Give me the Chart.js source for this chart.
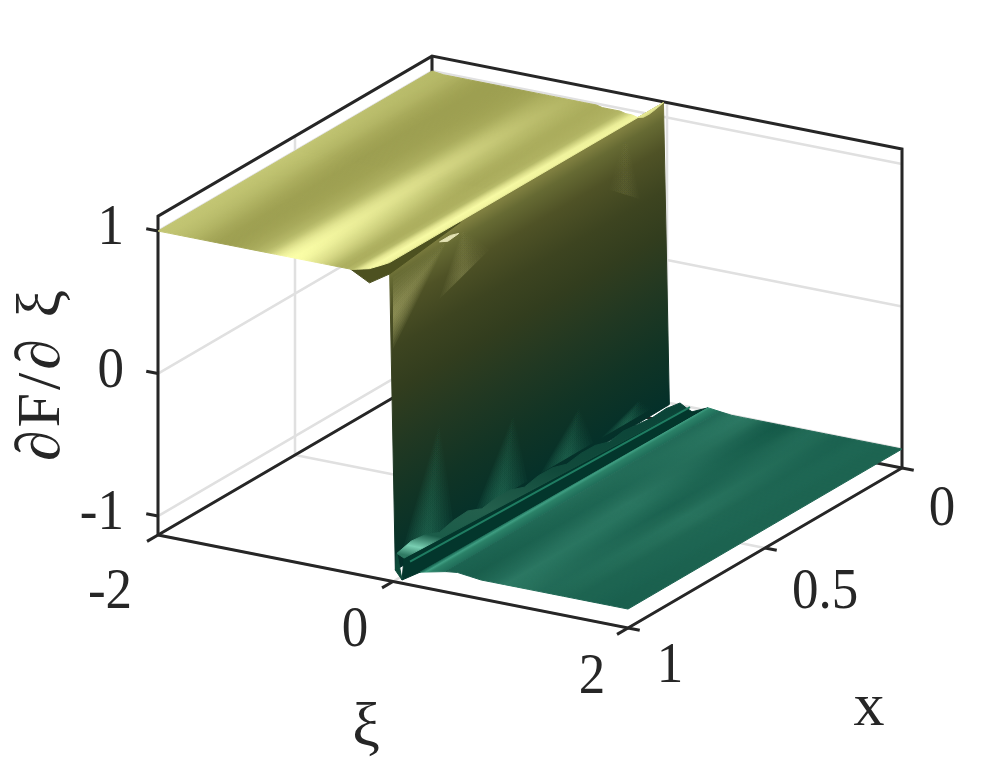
<!DOCTYPE html>
<html>
<head>
<meta charset="utf-8">
<style>
  html, body { margin: 0; padding: 0; background: #fff; }
  #wrap { position: relative; width: 997px; height: 759px; }
</style>
<script src="https://cdn.jsdelivr.net/npm/chart.js@4"></script>
</head>
<body>
<div id="wrap"><canvas id="myChart"></canvas></div>
<script>
// axis ticks
const xiTicks = [-2, 0, 2];
const xTicks = [0, 0.5, 1];
const zTicks = [-1, 0, 1];
const xiLabels = ['-2', '0', '2'];
const xLabels = ['0', '0.5', '1'];
const zLabels = ['-1', '0', '1'];

// upper plateau, one row per xi station (near = x 1, mid = x 0.5, far = x 0)
const topXi = [-2, -1.9, -1.8, -1.7, -1.6, -1.5, -1.4, -1.3, -1.2, -1.1, -1.05, -1, -0.95, -0.9, -0.85, -0.8, -0.75, -0.7, -0.65, -0.6, -0.55, -0.5, -0.45, -0.4, -0.35, -0.3, -0.25, -0.2, -0.15, -0.1, -0.03];
const topZNear = [1, 1, 1, 1, 1, 1, 1, 1, 1, 1, 1, 1, 1, 1, 1, 1, 1, 1, 1, 1, 1, 1, 1, 1, 1, 1.01, 1.02, 1.03, 1.05, 1.07, 1.1];
const topZFar = [1, 0.99, 0.99, 0.99, 0.99, 0.99, 0.99, 0.99, 0.99, 0.99, 0.99, 0.99, 0.99, 0.99, 0.99, 0.99, 0.99, 0.99, 0.99, 0.99, 0.98, 0.98, 0.98, 0.98, 0.97, 0.97, 0.96, 0.97, 1, 1.04, 1.1];
const topShadeNear = [0.42, 0.4, 0.34, 0.26, 0.14, 0.06, 0.04, 0.08, 0.15, 0.3, 0.45, 0.68, 0.85, 0.95, 1, 0.98, 0.92, 0.82, 0.72, 0.6, 0.45, 0.3, 0.2, 0.18, 0.3, 0.75, 0.95, 0.9, 0.6, 0.5, 0.5];
const topShadeMid = [0.42, 0.36, 0.28, 0.16, 0.08, 0.03, 0.04, 0.06, 0.12, 0.2, 0.3, 0.42, 0.55, 0.62, 0.62, 0.55, 0.45, 0.38, 0.3, 0.22, 0.18, 0.16, 0.18, 0.2, 0.3, 0.7, 0.95, 0.9, 0.6, 0.5, 0.5];
const topShadeFar = [0.3, 0.28, 0.22, 0.12, 0.06, 0.03, 0.03, 0.04, 0.06, 0.1, 0.14, 0.18, 0.2, 0.22, 0.24, 0.24, 0.22, 0.2, 0.18, 0.16, 0.16, 0.18, 0.2, 0.22, 0.28, 0.5, 0.8, 0.9, 0.6, 0.5, 0.5];

// lower plateau
const lowXi = [0.45, 0.55, 0.65, 0.75, 0.85, 0.95, 1.05, 1.15, 1.25, 1.35, 1.45, 1.55, 1.65, 1.75, 1.85, 2];
const lowZNear = [-0.99, -0.98, -0.99, -1, -1, -1, -1, -1, -1, -1, -1, -1, -1, -1, -1, -1];
const lowZFar = [-0.99, -1, -1, -1, -1, -1, -1, -1, -1, -1, -1, -1, -1, -1, -1, -1];
const lowShadeNear = [0.3, 0.25, 0.2, 0.35, 0.55, 0.9, 0.8, 0.7, 0.55, 0.5, 0.45, 0.35, 0.35, 0.3, 0.25, 0.25];
const lowShadeMid = [0.6, 0.45, 0.4, 0.6, 0.85, 0.75, 0.5, 0.3, 0.45, 0.75, 0.7, 0.45, 0.4, 0.4, 0.35, 0.35];
const lowShadeFar = [0.55, 0.8, 0.9, 0.7, 0.25, 0.05, 0.15, 0.45, 0.55, 0.45, 0.3, 0.3, 0.4, 0.4, 0.35, 0.35];

// jump between the plateaus
const wallXiTop = -0.03;
const wallXiBottom = 0.02;
const wallZTop = 1.1;
const wallZBottomNear = -1.05;
const wallZBottomFar = -1.01;
const wallZStops = [1.1, 1, 0.8, 0.5, 0.2, -0.2, -0.6, -1.05];
const wallColors = ['#7f7f40', '#666a33', '#4f5226', '#3d4420', '#323d1e', '#213822', '#113425', '#03302a'];

// ripple at the foot of the jump
const footX = [1, 0.95, 0.9, 0.85, 0.8, 0.75, 0.7, 0.65, 0.6, 0.55, 0.5, 0.45, 0.4, 0.35, 0.3, 0.25, 0.2, 0.15, 0.1, 0.05, 0];
const footXi = [0.034, 0.038, 0.042, 0.046, 0.05, 0.053, 0.057, 0.061, 0.065, 0.069, 0.072, 0.076, 0.08, 0.084, 0.088, 0.092, 0.095, 0.099, 0.103, 0.107, 0.111];
const footZ = [-0.93, -0.9, -0.91, -0.95, -0.92, -0.91, -0.95, -0.93, -0.93, -0.965, -0.94, -0.94, -0.97, -0.95, -0.95, -0.98, -0.96, -0.97, -0.98, -0.97, -0.985];
// rows as [xi near, z near, xi far, z far]
const rippleB = [0.094, -0.953, 0.162, -1.01];
const rippleC = [0.077, -1.11, 0.213, -1.03];
const rippleD = [0.23, -1.03, 0.349, -0.98];
const rippleLine = [0.145, -0.97, 0.196, -1];
const flapXi = [-0.36, -0.2, -0.03];
const flapZ = [1, 0.93, 1.02];

// light fans on the jump: tip and two base corners as [x, z]
const footFans = [
  [[0.83, -0.2], [0.97, -0.98], [0.78, -0.98]],
  [[0.56, -0.45], [0.7, -0.98], [0.51, -0.98]],
  [[0.32, -0.67], [0.46, -0.98], [0.27, -0.98]],
  [[0.1, -0.87], [0.24, -0.98], [0.05, -0.98]]
];
const ridgeFans = [
  [[0.8, 1.04], [1, 1.0], [1, 0.5]],
  [[0.745, 1.06], [0.83, 0.66], [0.65, 0.8]],
  [[0.15, 1.08], [0.21, 0.73], [0.1, 0.54]]
];
const ridgeFanAlpha = [0.45, 0.22, 0.08];
const glintX = [0.83, 0.8, 0.76, 0.79];
const glintZ = [1.06, 1.03, 1.04, 1.06];

// box
const xiMin = -2, xiMax = 2, xMin = 0, xMax = 1, zMin = -1.133, zMax = 1.105;

function px(xi, x) { return 158 + (xi + 2) * 117.5 + (1 - x) * 274; }
function py(xi, x, z) { return 535 + (xi + 2) * 23.25 - (1 - x) * 160 - (z - zMin) * 142.5; }
function pt(xi, x, z) { return { x: px(xi, x), y: py(xi, x, z) }; }

function hex(c) { return [1, 3, 5].map(i => parseInt(c.substr(i, 2), 16)); }
function mix(a, b, t) {
  const p = hex(a), q = hex(b);
  return 'rgb(' + p.map((v, i) => Math.round(v + (q[i] - v) * t)).join(',') + ')';
}

const datasets = [];
function add(points, extra) {
  datasets.push(Object.assign({
    data: points, showLine: true, pointRadius: 0, borderWidth: 0,
    borderColor: 'transparent', order: -datasets.length
  }, extra));
}
function line(points, color, width) { add(points, { borderColor: color, borderWidth: width, borderCapStyle: 'butt' }); }
function area(points, paint, edge) {
  add(points.concat([points[0]]), {
    fill: 'shape', backgroundColor: paint, borderColor: paint,
    borderWidth: edge === undefined ? 1 : edge, borderJoinStyle: 'round'
  });
}

// linear gradient whose colour lines run along (dx, dy), from point a through point b
function alongGradient(ctx, a, b, dx, dy, stops) {
  const vx = b.x - a.x, vy = b.y - a.y;
  const nx = -dy, ny = dx;
  const k = (vx * nx + vy * ny) / (nx * nx + ny * ny);
  const g = ctx.createLinearGradient(a.x, a.y, a.x + nx * k, a.y + ny * k);
  stops.forEach(s => g.addColorStop(s[0], s[1]));
  return g;
}
const xiDx = 117.5, xiDy = 23.25, xDx = 274, xDy = -160;

// the shading of a plateau: near, mid and far profiles blended along x
function sheetPattern(chart, xi, z, near, mid, far, low, high) {
  const off = document.createElement('canvas');
  off.width = chart.width;
  off.height = chart.height;
  const o = off.getContext('2d');
  const a = pt(xi[0], 1, z), b = pt(xi[xi.length - 1], 1, z);
  const span = xi[xi.length - 1] - xi[0];
  function layer(c, shade) {
    const stops = xi.map((v, i) => [(v - xi[0]) / span, mix(low, high, shade[i])]);
    return alongGradient(c, a, b, xDx, xDy, stops);
  }
  function masked(shade, fromX, toX) {
    const l = document.createElement('canvas');
    l.width = off.width;
    l.height = off.height;
    const c = l.getContext('2d');
    c.fillStyle = layer(c, shade);
    c.fillRect(0, 0, l.width, l.height);
    c.globalCompositeOperation = 'destination-in';
    c.fillStyle = alongGradient(c, pt(xi[0], fromX, z), pt(xi[0], toX, z), xiDx, xiDy, [[0, 'rgba(0,0,0,0)'], [1, 'rgba(0,0,0,1)']]);
    c.fillRect(0, 0, l.width, l.height);
    o.drawImage(l, 0, 0);
  }
  o.fillStyle = layer(o, near);
  o.fillRect(0, 0, off.width, off.height);
  masked(mid, 1, 0.5);
  masked(far, 0.5, 0);
  return chart.ctx.createPattern(off, 'no-repeat');
}

function sheet(xi, zNear, zFar, near, mid, far, low, high, z) {
  const poly = xi.map((v, i) => pt(v, 1, zNear[i]));
  for (let i = xi.length - 1; i >= 0; i--) poly.push(pt(xi[i], 0, zFar[i]));
  let pattern = null;
  area(poly, c => {
    if (!pattern) pattern = sheetPattern(c.chart, xi, z, near, mid, far, low, high);
    return pattern;
  });
}

// soft fan: stacked shrinking triangles that fade towards the tip
function softFan(tip, baseA, baseB, rgb, alpha) {
  const layers = 8;
  for (let k = 0; k < layers; k++) {
    const t = k / (layers * 1.05);
    const midX = (baseA.x + baseB.x) / 2, midY = (baseA.y + baseB.y) / 2;
    const a = { x: baseA.x + (midX - baseA.x) * t, y: baseA.y + (midY - baseA.y) * t };
    const b = { x: baseB.x + (midX - baseB.x) * t, y: baseB.y + (midY - baseB.y) * t };
    area([tip, a, b], c => {
      const g = c.chart.ctx.createLinearGradient(tip.x, tip.y, midX, midY);
      g.addColorStop(0, 'rgba(' + rgb + ',0)');
      g.addColorStop(1, 'rgba(' + rgb + ',' + alpha / layers * 1.6 + ')');
      return g;
    }, 0);
  }
}

// grid on the back walls
const gridColor = '#e0e0e0';
zTicks.forEach(z => {
  line([pt(xiMin, 1, z), pt(xiMin, 0, z)], gridColor, 2.5);
  line([pt(xiMin, 0, z), pt(xiMax, 0, z)], gridColor, 2.5);
});
xTicks.forEach(x => {
  line([pt(xiMin, x, zMin), pt(xiMin, x, zMax)], gridColor, 2.5);
  line([pt(xiMin, x, zMin), pt(xiMax, x, zMin)], gridColor, 2.5);
});
xiTicks.forEach(xi => {
  line([pt(xi, 0, zMin), pt(xi, 0, zMax)], gridColor, 2.5);
  line([pt(xi, 1, zMin), pt(xi, 0, zMin)], gridColor, 2.5);
});

// box edges behind the surface
const boxColor = '#262626';
line([pt(xiMin, 1, zMin), pt(xiMin, 0, zMin), pt(xiMax, 0, zMin)], boxColor, 3);
line([pt(xiMin, 0, zMin), pt(xiMin, 0, zMax)], boxColor, 3);
line([pt(xiMin, 1, zMin), pt(xiMin, 1, zMax), pt(xiMin, 0, zMax), pt(xiMax, 0, zMax), pt(xiMax, 0, zMin), pt(xiMax, 1, zMin), pt(xiMin, 1, zMin)], boxColor, 3);

// ticks
zTicks.forEach(z => line([pt(xiMin - 0.1, 1, z), pt(xiMin, 1, z)], boxColor, 3));
xiTicks.forEach(xi => line([pt(xi, 1.04, zMin), pt(xi, 1, zMin)], boxColor, 3));
xTicks.forEach(x => line([pt(xiMax, x, zMin), pt(xiMax + 0.1, x, zMin)], boxColor, 3));

// the jump
const wallPoly = [pt(wallXiTop, 1, wallZTop), pt(wallXiTop, 0, wallZTop), pt(wallXiBottom, 0, wallZBottomFar), pt(wallXiBottom, 1, wallZBottomNear)];
area(wallPoly, c => {
  const range = wallZStops[0] - wallZStops[wallZStops.length - 1];
  const stops = wallZStops.map((z, i) => [(wallZStops[0] - z) / range, wallColors[i]]);
  return alongGradient(c.chart.ctx, pt(0, 1, wallZStops[0]), pt(0, 1, wallZStops[wallZStops.length - 1]), xDx, xDy, stops);
});

footFans.forEach(f => softFan(pt(0, f[0][0], f[0][1]), pt(0, f[1][0], f[1][1]), pt(0, f[2][0], f[2][1]), '45,130,100', 0.42));
ridgeFans.forEach((f, i) => softFan(pt(0, f[0][0], f[0][1]), pt(0, f[1][0], f[1][1]), pt(0, f[2][0], f[2][1]), '190,190,120', ridgeFanAlpha[i]));
area(glintX.map((x, i) => pt(0, x, glintZ[i])), '#e4e3b4');

// flap under the near end of the ridge
area([pt(flapXi[0], 1, flapZ[0]), pt(flapXi[1], 1, flapZ[1]), pt(flapXi[2], 1, flapZ[2]), pt(-0.08, 0.72, 1.06)], '#4d5120');

// upper plateau
sheet(topXi, topZNear, topZFar, topShadeNear, topShadeMid, topShadeFar, '#9a9c4e', '#fcffa8', 1);

// ripple rows at the foot
const foot = footX.map((x, i) => pt(footXi[i], x, footZ[i]));
const rowB = [pt(rippleB[0], 1, rippleB[1]), pt(rippleB[2], 0, rippleB[3])];
const rowC = [pt(rippleC[0], 1, rippleC[1]), pt(rippleC[2], 0, rippleC[3])];
const rowD = [pt(rippleD[0], 1, rippleD[1]), pt(rippleD[2], 0, rippleD[3])];
area([pt(wallXiBottom, 1, wallZBottomNear), foot[0], rowC[0]], '#0e4a3a');
area([rowB[0], rowC[0], rowD[0], rowD[1], rowC[1], rowB[1]], '#03362c');
area(foot.concat([rowB[1], rowB[0]]), c => alongGradient(c.chart.ctx, foot[0], foot[foot.length - 1], xiDx, xiDy,
  [[0, '#2f7a63'], [0.05, '#79cfb2'], [0.12, '#1b5c49'], [0.3, '#235f4c'], [0.55, '#114a3b'], [1, '#0a4337']]));
line([pt(rippleLine[0], 1, rippleLine[1]), pt(rippleLine[2], 0, rippleLine[3])], '#1f7d62', 2);

// bright edge of the lower plateau
const brightPoly = [rowD[0], pt(lowXi[0], 1, lowZNear[0]), pt(lowXi[0], 0, lowZFar[0]), rowD[1]];
area(brightPoly, c => alongGradient(c.chart.ctx, brightPoly[0], brightPoly[1], xDx, xDy,
  [[0, '#14634f'], [0.22, '#3f9e82'], [0.42, '#2b8268'], [1, '#1f6c58']]));

// lower plateau
sheet(lowXi, lowZNear, lowZFar, lowShadeNear, lowShadeMid, lowShadeFar, '#135746', '#2f7c66', -1);

// tick labels and axis titles
const zLabelOffset = [[-34, -2], [-34, -1], [-34, -2]];
const xiLabelOffset = [[-48, 58], [-38, 50], [-36, 50]];
const xLabelOffset = [[40, 42], [60, 45], [42, 39]];
const labelsPlugin = {
  id: 'labels3d',
  afterDatasetsDraw(chart) {
    const c = chart.ctx, sx = chart.scales.x, sy = chart.scales.y;
    function text(str, x, y) {
      // the glyphs in the picture are a little taller than they are wide
      c.save();
      c.translate(x, y);
      c.scale(1, 1.07);
      c.fillText(str, 0, 0);
      c.restore();
    }
    function tick(str, p, off) {
      text(str, sx.getPixelForValue(p.x) + off[0], sy.getPixelForValue(p.y) + off[1]);
    }
    c.save();
    c.fillStyle = '#262626';
    c.font = '53px "Liberation Serif", serif';
    c.textBaseline = 'middle';
    c.textAlign = 'right';
    zTicks.forEach((z, i) => tick(zLabels[i], pt(xiMin, 1, z), zLabelOffset[i]));
    c.textAlign = 'center';
    xiTicks.forEach((xi, i) => tick(xiLabels[i], pt(xi, 1, zMin), xiLabelOffset[i]));
    xTicks.forEach((x, i) => tick(xLabels[i], pt(xiMax, x, zMin), xLabelOffset[i]));
    c.font = '62px "Liberation Serif", serif';
    c.fillText('ξ', 366, 729);
    c.fillText('x', 869, 709);
    c.textBaseline = 'alphabetic';
    c.letterSpacing = '3px';
    c.translate(59, 374);
    c.rotate(-Math.PI / 2);
    c.fillText('∂F/∂ ξ', 0, 0);
    c.restore();
  }
};

new Chart(document.getElementById('myChart').getContext('2d'), {
  type: 'scatter',
  data: { datasets: datasets },
  options: {
    responsive: true,
    maintainAspectRatio: false,
    animation: false,
    events: [],
    layout: { padding: 0 },
    plugins: { legend: { display: false }, title: { display: false }, tooltip: { enabled: false } },
    elements: { line: { tension: 0 } },
    scales: {
      x: { type: 'linear', min: 0, max: 997, display: false },
      y: { type: 'linear', min: 0, max: 759, reverse: true, display: false }
    }
  },
  plugins: [labelsPlugin]
});
</script>
</body>
</html>
